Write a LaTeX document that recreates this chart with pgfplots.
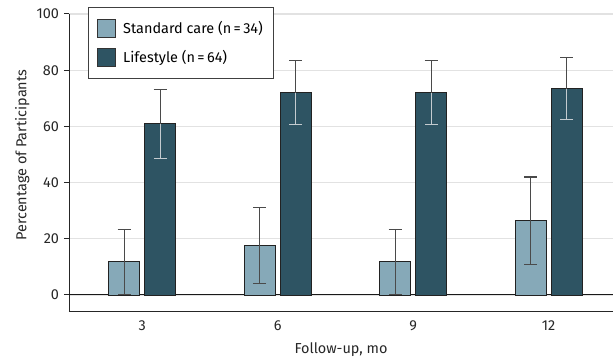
\documentclass[border=0pt]{standalone}
\usepackage{pgfplots}
\pgfplotsset{compat=1.18}
\usepackage{pgfplotstable}
\usepackage{fontspec}
\setmainfont{Fira Sans}
\definecolor{sc}{HTML}{86A9B8}
\definecolor{ls}{HTML}{2E5463}
\definecolor{edge}{HTML}{222222}
\definecolor{errd}{HTML}{4A4A4A}
\definecolor{errl}{HTML}{C4CBCF}
\definecolor{gridc}{HTML}{E2E2E2}
\pgfplotstableread{
x y ep em
0 11.8 11.4 11.5
1 17.6 13.5 13.4
2 11.8 11.4 11.5
3 26.5 15.5 15.6
}\sctab
\pgfplotstableread{
x y ep em
0 61.0 12.2 12.4
1 72.0 11.3 11.4
2 72.0 11.3 11.4
3 73.4 11.2 11.1
}\lstab
\newcommand\fs{\fontsize{14.5}{17}\selectfont}
\begin{document}
\fs
\begin{tikzpicture}
\path[use as bounding box] (-69bp,-49bp) rectangle (544bp,311bp);
\begin{axis}[
  scale only axis,
  width=544bp, height=297bp,
  xmin=-0.54, xmax=3.476,
  ymin=-5.7, ymax=100,
  axis x line*=bottom, axis y line*=left,
  axis line style={line width=1pt, color=black!85},
  xtick={0,1,2,3}, xticklabels={3,6,9,12},
  x tick style={draw=none},
  ytick={0,20,40,60,80,100},
  y tick style={line width=1pt, color=black!85},
  major tick length=5bp,
  tick align=outside,
  ymajorgrids,
  grid style={gridc, line width=1.2pt},
  /pgf/number format/assume math mode=true,
  tick label style={font=\fs, color=black!85},
  xlabel={Follow-up, mo},
  ylabel={Percentage of Participants},
  label style={font=\fs, color=black!85},
  xlabel style={at={(axis description cs:0.5,-0.131)}, anchor=center},
  ylabel style={at={(axis description cs:-0.086,0.525)}, anchor=center},
  legend style={at={(axis description cs:0.035,1.024)}, anchor=north west,
    draw=black!75, line width=0.9pt, font=\fs,
    inner xsep=9bp, inner ysep=12bp, row sep=10bp, fill=white},
  legend cell align=left,
  legend image code/.code={\draw[#1, draw=black!80, line width=0.7pt] (0bp,-9bp) rectangle (18bp,9bp);
    \path (23bp,0bp);},
  clip=false,
]
\draw[black!90, line width=1pt] (axis cs:-0.54,0) -- (axis cs:3.476,0);
\addplot[ybar, bar width=0.229, bar shift=0, fill=sc, draw=edge, line width=0.8pt,
  error bars/.cd, y dir=both, y explicit,
  error bar style={errd, line width=1.1pt},
  error mark options={rotate=90, mark size=6.5bp, errd, line width=1.1pt}]
  table[x expr=\thisrow{x}-0.133, y=y, y error plus=ep, y error minus=em]{\sctab};
\addlegendentry{Standard care (n\,=\,34)}
\addplot[ybar, bar width=0.229, bar shift=0, fill=ls, draw=edge, line width=0.8pt,
  error bars/.cd, y dir=plus, y explicit,
  error bar style={errd, line width=1.1pt},
  error mark options={rotate=90, mark size=6.5bp, errd, line width=1.1pt}]
  table[x expr=\thisrow{x}+0.133, y=y, y error plus=ep, y error minus=em]{\lstab};
\addlegendentry{Lifestyle (n\,=\,64)}
\addplot[ybar, bar width=0.229, bar shift=0, fill=none, draw=none, forget plot,
  error bars/.cd, y dir=minus, y explicit,
  error bar style={errl, line width=1.1pt},
  error mark options={rotate=90, mark size=6.5bp, errl, line width=1.1pt}]
  table[x expr=\thisrow{x}+0.133, y=y, y error plus=ep, y error minus=em]{\lstab};
\end{axis}
\end{tikzpicture}
\end{document}
